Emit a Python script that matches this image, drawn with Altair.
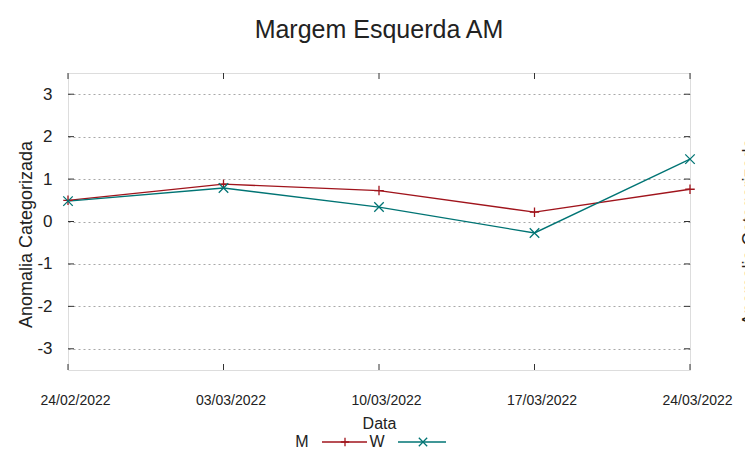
import altair as alt
import pandas as pd

dates = ["24/02/2022", "03/03/2022", "10/03/2022", "17/03/2022", "24/03/2022"]
m_values = [0.50, 0.88, 0.73, 0.22, 0.76]
w_values = [0.48, 0.79, 0.34, -0.27, 1.47]
series_names = ["M", "W"]
series_colors = ["#a0141c", "#007474"]
y_ticks = [-3, -2, -1, 0, 1, 2, 3]

PLUS = "M -1 0 L 1 0 M 0 -1 L 0 1"
CROSS = "M -1 -1 L 1 1 M -1 1 L 1 -1"

W, H = 622, 297
SANS = "Liberation Sans"

df = pd.DataFrame({
    "date": dates * 2,
    "value": m_values + w_values,
    "series": ["M"] * len(dates) + ["W"] * len(dates),
})
xtick_df = pd.DataFrame({"date": dates})
ytick_df = pd.DataFrame({"value": y_ticks})

xscale = alt.Scale(type="point", padding=0, domain=dates)
yscale = alt.Scale(domain=[-3.5, 3.5], nice=False, zero=False)
cscale = alt.Scale(domain=series_names, range=series_colors)

x_enc = alt.X("date:O", scale=xscale, sort=dates, axis=alt.Axis(
    title="Data", labelAngle=0, ticks=False, domain=False, grid=False,
    labelFont=SANS, labelFontSize=14, labelColor="#222222",
    labelPadding=23, labelOffset=7,
    titleFont=SANS, titleFontSize=16, titleFontWeight="normal", titleColor="#222222",
    titlePadding=8))
y_enc = alt.Y("value:Q", scale=yscale, axis=alt.Axis(
    title="Anomalia Categorizada", values=y_ticks, ticks=False, domain=False,
    grid=True, gridColor="#a8a8a8", gridDash=[2, 3], gridWidth=1,
    labelExpr="datum.value < 0 ? '-' + abs(datum.value) : '' + datum.value",
    labelFont=SANS, labelFontSize=17, labelColor="#222222", labelPadding=16,
    titleFont=SANS, titleFontSize=18, titleFontWeight="normal", titleColor="#222222",
    titleX=-42, titleY=161, titleBaseline="middle", titleAngle=270))

lines = alt.Chart(df).mark_line(strokeWidth=1.3).encode(
    x=x_enc, y=y_enc,
    color=alt.Color("series:N", scale=cscale, legend=None),
    detail="series:N")

points = alt.Chart(df).mark_point(filled=False, size=90, strokeWidth=1.3, opacity=1).encode(
    x=alt.X("date:O", scale=xscale, sort=dates),
    y=alt.Y("value:Q", scale=yscale),
    color=alt.Color("series:N", scale=cscale, legend=None),
    shape=alt.Shape("series:N", scale=alt.Scale(domain=series_names, range=[PLUS, CROSS]), legend=None))

tick_color = "#333333"
xt_bottom = alt.Chart(xtick_df).mark_rule(color=tick_color, strokeWidth=1).encode(
    x=alt.X("date:O", scale=xscale, sort=dates), y=alt.value(H), y2=alt.value(H - 6))
xt_top = alt.Chart(xtick_df).mark_rule(color=tick_color, strokeWidth=1).encode(
    x=alt.X("date:O", scale=xscale, sort=dates), y=alt.value(0), y2=alt.value(6))
yt_left = alt.Chart(ytick_df).mark_rule(color=tick_color, strokeWidth=1).encode(
    y=alt.Y("value:Q", scale=yscale), x=alt.value(0), x2=alt.value(6))
yt_right = alt.Chart(ytick_df).mark_rule(color=tick_color, strokeWidth=1).encode(
    y=alt.Y("value:Q", scale=yscale), x=alt.value(W - 6), x2=alt.value(W))

one = alt.Data(values=[{}])
LEG_Y = 369


def legend_text(txt, xpos):
    return alt.Chart(one).mark_text(font=SANS, fontSize=16, color="#222222",
                                    align="center", baseline="middle").encode(
        x=alt.value(xpos), y=alt.value(LEG_Y), text=alt.value(txt))


def legend_line(x1, x2, color):
    return alt.Chart(one).mark_rule(color=color, strokeWidth=1.3).encode(
        x=alt.value(x1), x2=alt.value(x2), y=alt.value(LEG_Y))


def legend_marker(xpos, shape, color):
    return alt.Chart(one).mark_point(filled=False, size=70, strokeWidth=1.3, opacity=1,
                                     shape=shape, color=color).encode(
        x=alt.value(xpos), y=alt.value(LEG_Y))


legend = [
    legend_text("M", 234),
    legend_line(254, 299, series_colors[0]),
    legend_marker(277, PLUS, series_colors[0]),
    legend_text("W", 309),
    legend_line(330, 378, series_colors[1]),
    legend_marker(355, CROSS, series_colors[1]),
]

# the neighbouring panel's axis title, cut off at the right edge
right_title = alt.Chart(one).mark_text(font=SANS, fontSize=18, color="#222222", angle=270,
                                       align="center", baseline="top").encode(
    x=alt.value(673), y=alt.value(159), text=alt.value("Anomalia Categorizada"))

chart = alt.layer(
    lines, points, xt_bottom, xt_top, yt_left, yt_right, *legend, right_title
).properties(
    width=W, height=H,
    title=alt.Title("Margem Esquerda AM", font=SANS, fontSize=25, fontWeight="normal",
                    color="#222222", anchor="middle", offset=30),
    autosize=alt.AutoSizeParams(type="none"),
    padding={"left": 60, "top": 65, "right": 55, "bottom": 78},
).configure_view(
    stroke="#404040", strokeWidth=1
).configure(background="white")

chart.save("out.html", embed_options={"renderer": "svg", "actions": False})
